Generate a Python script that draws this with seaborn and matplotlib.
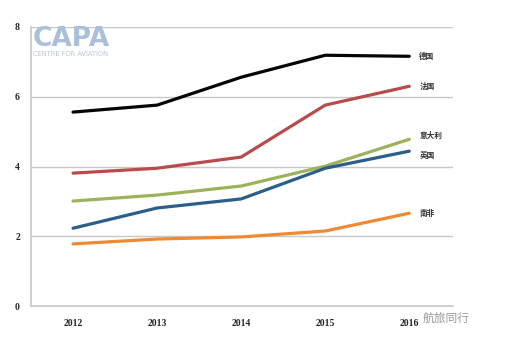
import matplotlib
matplotlib.use("Agg")
import matplotlib.pyplot as plt
import seaborn as sns
import pandas as pd

years = [2012, 2013, 2014, 2015, 2016]
germany = [5.56, 5.76, 6.56, 7.19, 7.16]
france = [3.81, 3.95, 4.27, 5.76, 6.30]
italy = [3.01, 3.18, 3.44, 4.01, 4.78]
uk = [2.23, 2.81, 3.07, 3.95, 4.44]
southafrica = [1.78, 1.92, 1.98, 2.15, 2.66]

names = ["德国", "法国", "意大利", "英国", "南非"]
series = [germany, france, italy, uk, southafrica]
colors = ["#050505", "#b84c4a", "#9cb35c", "#2c5e88", "#ee8a34"]

rows = []
for n, s in zip(names, series):
    for y, v in zip(years, s):
        rows.append({"year": y, "value": v, "country": n})
df = pd.DataFrame(rows)

sns.set_style("white")
plt.rcParams['font.family'] = ['Noto Sans CJK SC', 'DejaVu Sans']

fig = plt.figure(figsize=(5.07, 3.45), dpi=100)
ax = fig.add_axes([31/507, 1-306/345, (453-31)/507, (306-27)/345])

sns.lineplot(data=df, x="year", y="value", hue="country", palette=dict(zip(names, colors)),
             linewidth=2.3, legend=False, ax=ax)

ax.set_xlim(2011.5, 2016.52)
ax.set_ylim(0, 8)
ax.set_yticks([0, 2, 4, 6, 8])
ax.set_xticks(years)
ax.set_xticklabels([str(y) for y in years], fontsize=7, fontweight="bold", family="Liberation Serif")
ax.set_yticklabels(["0", "2", "4", "6", "8"], fontsize=7, fontweight="bold", family="Liberation Serif")
ax.set_xlabel("")
ax.set_ylabel("")
ax.yaxis.grid(True, color="#c8c8c8", linewidth=1)
ax.set_axisbelow(True)
for sp in ["top", "right"]:
    ax.spines[sp].set_visible(False)
ax.spines["left"].set_color("#c8c8c8")
ax.spines["bottom"].set_color("#c8c8c8")
ax.spines["left"].set_linewidth(1.2)
ax.spines["bottom"].set_linewidth(1.2)
ax.tick_params(axis="x", length=3, color="#c8c8c8", pad=6)
ax.tick_params(axis="y", length=0, pad=8)

label_offsets = [0, 0, 0.12, -0.12, 0]
for n, s, off in zip(names, series, label_offsets):
    ax.text(2016.12, s[-1] + off, n, fontsize=5.5, fontweight="bold", va="center", ha="left",
            color="#333333", family=["Noto Sans CJK SC", "DejaVu Sans"])

# CAPA logo
fig.text(33/507, 1-45.5/345, "CAPA", fontsize=19, fontweight="heavy", color="#a9c0d8",
         family="DejaVu Sans", va="baseline")
fig.text(33/507, 1-51/345, "CENTRE FOR AVIATION", fontsize=4.8, color="#b5c7da",
         family="DejaVu Sans", va="top")

# watermark
fig.text(423/507, 1-322/345, "航旅同行", fontsize=8.5, color="#9a9a9a",
         family=["Noto Sans CJK SC", "DejaVu Sans"])

fig.savefig("out.png", dpi=100)
